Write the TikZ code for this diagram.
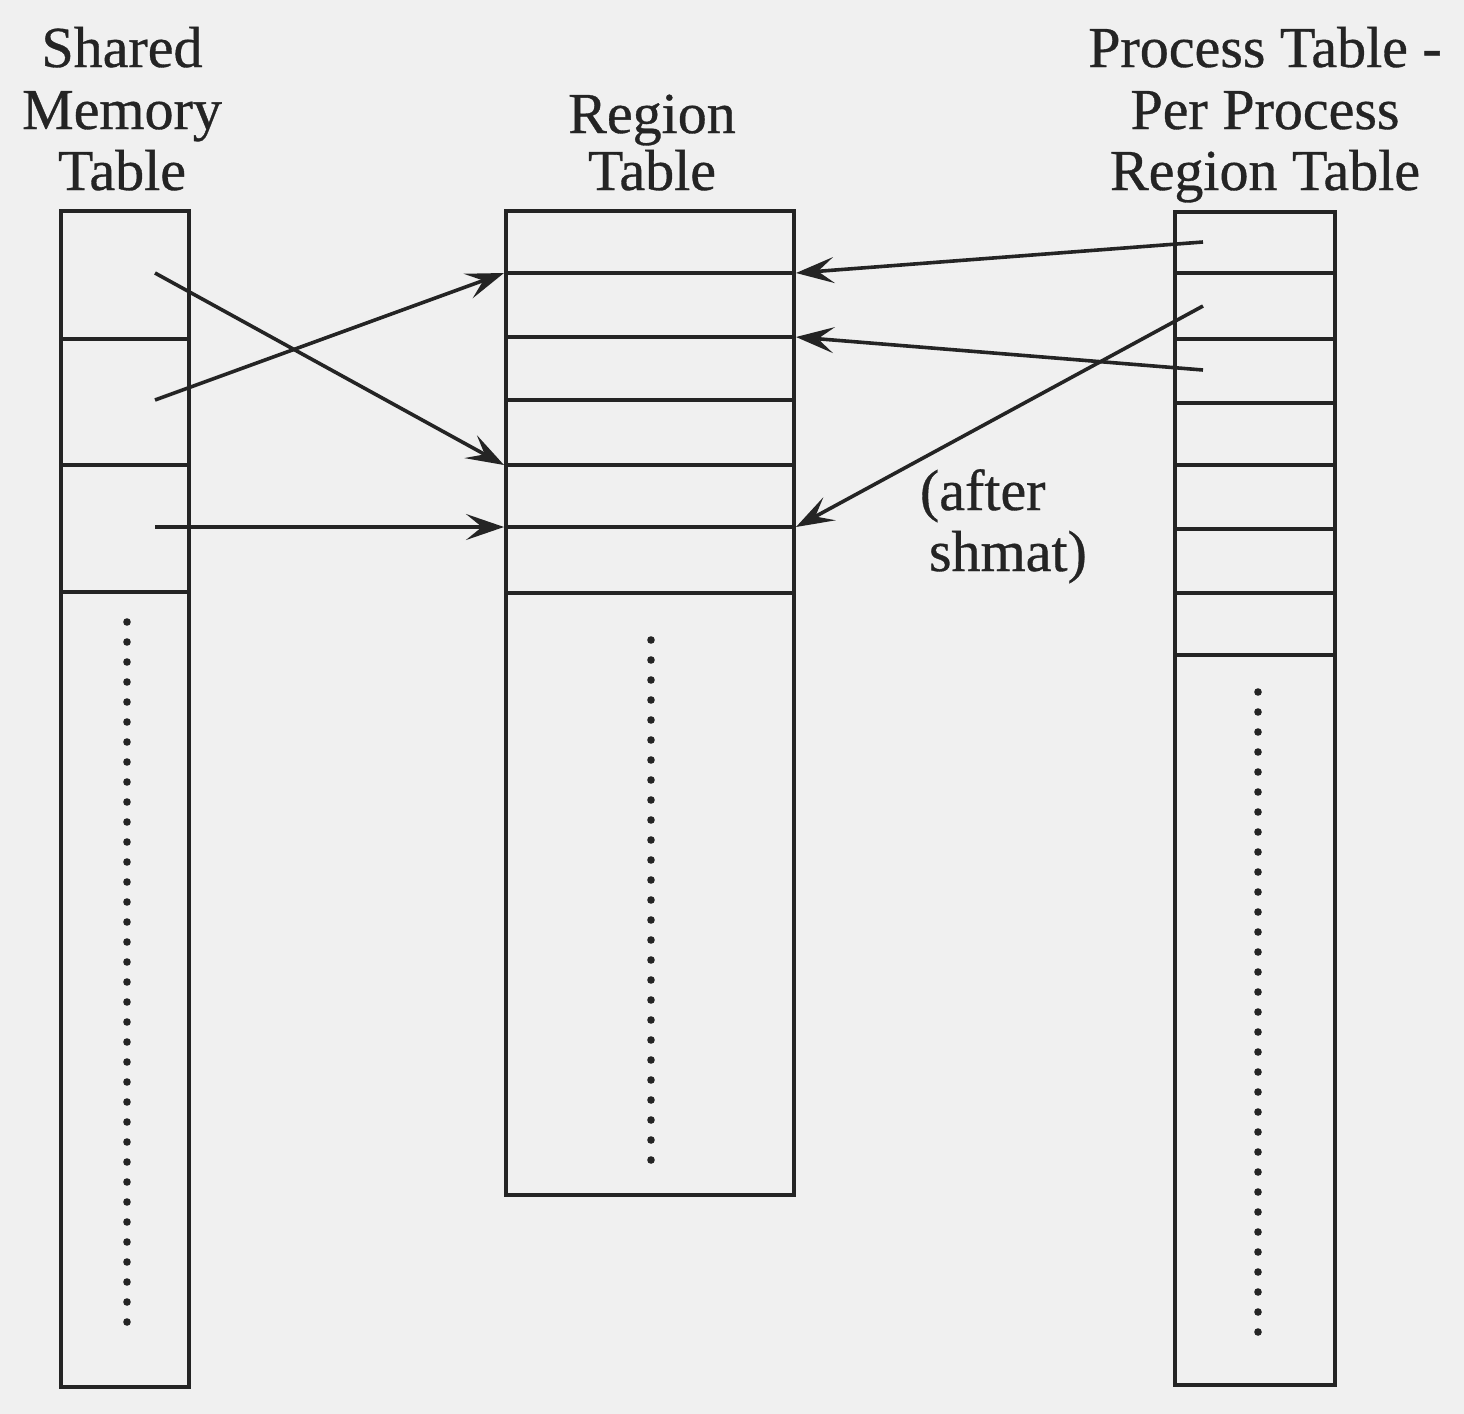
\documentclass[tikz,border=0pt]{standalone}
\usepackage{fontspec}
\setmainfont[FakeBold=0.6]{Liberation Serif}
\usetikzlibrary{arrows.meta}
\definecolor{bg}{RGB}{240,240,240}
\definecolor{ink}{RGB}{36,36,36}
\begin{document}
\begin{tikzpicture}[x=0.5pt,y=-0.5pt,
  line width=2pt, draw=ink,
  tbl/.style={draw=ink, line width=2pt, rectangle, inner sep=0pt, anchor=north west},
  lbl/.style={inner sep=0pt, anchor=base, text=ink, font=\fontsize{29pt}{31pt}\selectfont},
  ptr/.style={draw=ink, line width=1.8pt, -{Stealth[length=19pt,width=13pt,inset=8pt]}},
  dotc/.style={fill=ink}]
\fill[bg] (0,0) rectangle (1464,1414);
\useasboundingbox (0,0) rectangle (1464,1414);

% tables
\node[tbl, minimum width=64pt, minimum height=588pt] (smt) at (59,209) {};
\node[tbl, minimum width=144pt, minimum height=492pt] (rgt) at (504,209) {};
\node[tbl, minimum width=80pt, minimum height=586.5pt] (ppt) at (1173,210) {};

% row dividers
\foreach \y in {339,465,592} \draw (smt.west |- 0,\y) -- (smt.east |- 0,\y);
\foreach \y in {273,337,400,465,527,593} \draw (rgt.west |- 0,\y) -- (rgt.east |- 0,\y);
\foreach \y in {273,339,403,465,529,593,655} \draw (ppt.west |- 0,\y) -- (ppt.east |- 0,\y);

% dotted continuation
\foreach \y in {622,642,...,1322} \fill[dotc] (127,\y) circle (1.9pt);
\foreach \y in {640,660,...,1160} \fill[dotc] (651,\y) circle (1.9pt);
\foreach \y in {692,712,...,1342} \fill[dotc] (1258,\y) circle (1.9pt);

% labels
\node[lbl] (s1) at (122,67) {Shared};
\node[lbl] (s2) at (122,129) {Memory};
\node[lbl] (s3) at (122,190) {Table};
\node[lbl] (r1) at (652,133) {Region};
\node[lbl] (r2) at (652,190) {Table};
\node[lbl] (p1) at (1265,67) {Process Table -};
\node[lbl] (p2) at (1265,129) {Per Process};
\node[lbl] (p3) at (1265,190) {Region Table};
\node[lbl, anchor=base west] (n1) at (918,510) {(after};
\node[lbl, anchor=base west] (n2) at (927,571) {shmat)};

% pointer sources and targets
\coordinate (sa) at (155,273);
\coordinate (sb) at (155,400);
\coordinate (sc) at (155,527);
\coordinate (pa) at (1203,242);
\coordinate (pb) at (1203,306);
\coordinate (pc) at (1203,370);
\coordinate (r273w) at (rgt.west |- 0,273);
\coordinate (r465w) at (rgt.west |- 0,465);
\coordinate (r527w) at (rgt.west |- 0,527);
\coordinate (r273e) at (rgt.east |- 0,273);
\coordinate (r337e) at (rgt.east |- 0,337);
\coordinate (r527e) at (rgt.east |- 0,527);

\draw[ptr] (sa) -- (r465w);
\draw[ptr] (sb) -- (r273w);
\draw[ptr] (sc) -- (r527w);
\draw[ptr] (pa) -- (r273e);
\draw[ptr] (pc) -- (r337e);
\draw[ptr] (pb) -- (r527e);
\end{tikzpicture}
\end{document}
